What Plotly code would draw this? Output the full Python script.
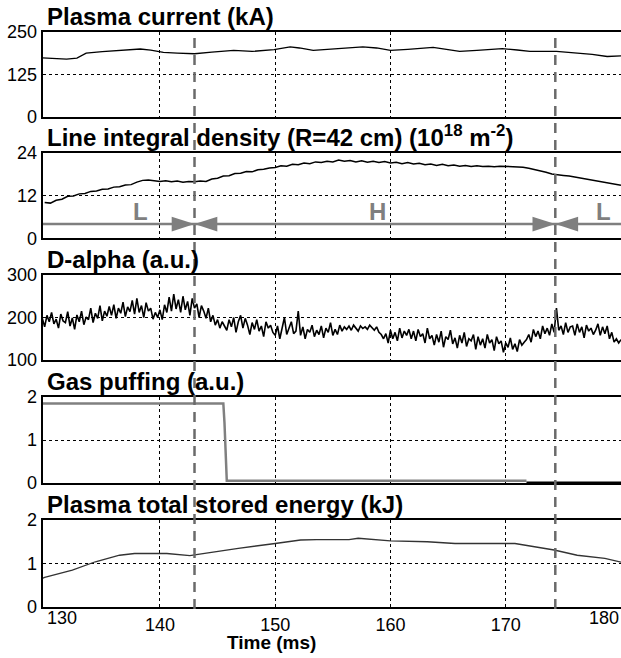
import plotly.graph_objects as go

# ---------------- data ----------------
x_range = [129.83, 180.0]
x_grid_ticks = [140, 150, 160, 170]
x_end_labels = [130, 180]
transitions = [143.0, 174.3]

# Plasma current (kA)
t_ip = [129.8, 130.2, 131.0, 131.9, 132.8, 133.6, 135.0, 136.5, 138.3, 139.2, 140.3, 141.5,
        143.0, 144.5, 146.4, 148.0, 149.9, 151.3, 152.1, 153.3, 154.5, 155.5, 157.6, 158.8,
        160.0, 161.5, 163.7, 165.0, 166.0, 167.5, 169.7, 171.0, 172.1, 174.4, 176.0, 177.5,
        178.8, 180.0]
ip = [174, 173, 171, 170, 173, 188, 192, 196, 200, 197, 190, 188,
      186, 191, 196, 193, 198, 206, 203, 196, 199, 201, 206, 203,
      196, 199, 205, 198, 193, 196, 201, 197, 193, 193, 189, 184,
      178, 180]

# Line integral density (1e18 m^-2), sampled every 0.5 ms from 130 ms
ne_t0, ne_dt = 130.0, 0.5
ne = [10.1, 9.9, 10.7, 11.0, 11.8, 11.9, 12.5, 12.6, 13.2, 13.3,
      13.8, 13.9, 14.4, 14.5, 15.0, 15.1, 15.8, 16.3, 16.4, 16.2,
      16.0, 16.2, 15.9, 16.1, 15.8, 16.0, 15.9, 16.1, 16.0, 16.7,
      16.9, 17.5, 17.6, 18.2, 18.3, 18.8, 18.7, 19.3, 19.4, 19.8,
      19.9, 20.4, 20.3, 20.8, 20.7, 21.2, 21.0, 21.5, 21.3, 21.7,
      21.5, 22.0, 21.7, 21.9, 21.5, 21.8, 21.4, 21.7, 21.3, 21.6,
      21.2, 21.4, 21.0, 21.3, 20.9, 21.1, 20.7, 20.9, 20.5, 20.8,
      20.4, 20.6, 20.3, 20.5, 20.2, 20.4, 20.2, 20.3, 20.1, 20.3,
      20.2, 20.3, 20.1, 20.0, 19.7, 19.4, 19.0, 18.6, 18.1, 17.8,
      17.7, 17.5, 17.2, 16.9, 16.6, 16.4, 16.1, 15.7, 15.3, 15.0,
      14.9]

# D-alpha (a.u.), sampled every 0.2 ms from 129.8 ms
da_t0, da_dt = 129.8, 0.2
dalpha = [198, 178, 205, 190, 212, 185, 196, 175, 208, 192,
          188, 214, 180, 199, 172, 206, 190, 215, 183, 201,
          195, 222, 188, 210, 198, 228, 192, 215, 203, 226,
          205, 230, 198, 222, 210, 236, 202, 225, 214, 240,
          208, 245, 212, 228, 200, 235, 215, 222, 196, 212,
          200, 218, 195, 230, 212, 248, 215, 255, 220, 242,
          212, 250, 218, 238, 205, 245, 222, 232, 200, 228,
          215, 198, 222, 190, 205, 182, 195, 175, 190, 180,
          170, 195, 178, 200, 165, 190, 205, 175, 198, 182,
          160, 188, 172, 195, 168, 180, 155, 190, 175, 182,
          165, 158, 180, 150, 172, 200, 160, 175, 190, 162,
          168, 215, 158, 178, 150, 172, 165, 182, 155, 170,
          160, 180, 152, 175, 165, 188, 158, 172, 160, 182,
          168, 178, 172, 180, 170, 182, 175, 168, 180, 174,
          178, 172, 182, 176, 170, 178, 165, 160, 150, 162,
          140, 170, 150, 165, 145, 175, 152, 168, 158, 172,
          150, 168, 145, 172, 155, 162, 140, 175, 150, 158,
          135, 160, 142, 168, 130, 155, 148, 170, 138, 152,
          128, 158, 140, 165, 132, 150, 145, 160, 125, 155,
          135, 150, 128, 160, 140, 148, 122, 155, 138, 145,
          118, 140, 130, 152, 125, 138, 120, 148, 135, 142,
          148, 160, 142, 172, 155, 168, 150, 180, 162, 175,
          158, 185, 165, 222, 170, 180, 160, 188, 165, 178,
          180, 158, 185, 165, 178, 152, 182, 168, 175, 160,
          170, 185, 158, 178, 162, 180, 150, 165, 142, 150,
          140, 148]

# Gas puffing (a.u.)
t_gas = [129.8, 145.5, 145.6, 145.75, 145.8, 171.8]
gas = [1.85, 1.85, 1.4, 0.5, 0.05, 0.05]
t_gas_off = [171.8, 180.0]
gas_off = [0.01, 0.01]

# Plasma total stored energy (kJ)
t_w = [129.8, 130.0, 132.4, 134.4, 136.5, 137.8, 140.6, 141.6, 142.6, 143.3, 146.8, 150.0,
       152.2, 153.6, 156.4, 157.2, 158.4, 160.0, 163.2, 165.6, 170.8, 172.8, 174.2, 176.2,
       178.6, 180.0]
w = [0.66, 0.68, 0.85, 1.04, 1.19, 1.23, 1.23, 1.21, 1.18, 1.21, 1.35, 1.46,
     1.54, 1.55, 1.55, 1.58, 1.55, 1.52, 1.50, 1.46, 1.46, 1.38, 1.31, 1.19,
     1.12, 1.03]

# confinement-mode arrows
mode_labels = ["L", "H", "L"]
mode_label_x = [138.3, 158.9, 178.5]
arrow_y = 4

titles = ["Plasma current (kA)",
          "Line integral density (R=42 cm) (10<sup>18</sup> m<sup>-2</sup>)",
          "D-alpha (a.u.)",
          "Gas puffing (a.u.)",
          "Plasma total stored energy (kJ)"]
y_ranges = [[0, 250], [0, 24], [100, 300], [0, 2], [0, 2]]
y_ticks = [[0, 125, 250], [0, 12, 24], [100, 200, 300], [0, 1, 2], [0, 1, 2]]

# ---------------- layout geometry (pixels) ----------------
W, H = 621, 658
panel_px = [(32, 117), (153, 238.3), (275, 360), (397, 483), (520, 607)]
left_px = 42.7

FONT = "Liberation Sans"
GRAY = "#7f7f7f"

def py(p):
    return 1 - p / H

fig = go.Figure()

ne_t = [ne_t0 + i * ne_dt for i in range(len(ne))]
da_t = [da_t0 + i * da_dt for i in range(len(dalpha))]

fig.add_trace(go.Scatter(x=t_ip, y=ip, mode="lines", line=dict(color="black", width=1.3),
                         xaxis="x", yaxis="y"))
# L/H arrow line + heads (tips at the transition times)
fig.add_trace(go.Scatter(x=x_range, y=[arrow_y, arrow_y], mode="lines",
                         line=dict(color=GRAY, width=2.5), xaxis="x2", yaxis="y2"))
head_x = [transitions[0], transitions[0], transitions[1], transitions[1]]
fig.add_trace(go.Scatter(x=head_x, y=[arrow_y] * 4, mode="markers",
                         marker=dict(symbol="arrow", size=24, angle=[90, 270, 90, 270],
                                     color=GRAY, line=dict(width=0)),
                         xaxis="x2", yaxis="y2"))
fig.add_trace(go.Scatter(x=ne_t, y=ne, mode="lines", line=dict(color="black", width=1.5),
                         xaxis="x2", yaxis="y2"))
fig.add_trace(go.Scatter(x=da_t, y=dalpha, mode="lines", line=dict(color="black", width=1.6),
                         xaxis="x3", yaxis="y3"))
fig.add_trace(go.Scatter(x=t_gas, y=gas, mode="lines", line=dict(color="#808080", width=2.5),
                         xaxis="x4", yaxis="y4"))
fig.add_trace(go.Scatter(x=t_gas_off, y=gas_off, mode="lines", line=dict(color="black", width=2),
                         xaxis="x4", yaxis="y4"))
fig.add_trace(go.Scatter(x=t_w, y=w, mode="lines", line=dict(color="#333333", width=1.3),
                         xaxis="x5", yaxis="y5"))

layout = dict(
    width=W, height=H, showlegend=False,
    margin=dict(l=0, r=0, t=0, b=0, autoexpand=False),
    paper_bgcolor="white", plot_bgcolor="white",
    font=dict(family=FONT, size=18, color="black"),
)

for i in range(5):
    n = "" if i == 0 else str(i + 1)
    top, bot = panel_px[i]
    layout["xaxis" + n] = dict(
        domain=[left_px / W, 1], range=x_range, anchor="y" + n, automargin=False,
        tickvals=x_grid_ticks, showticklabels=(i == 4), ticks="",
        showgrid=True, gridcolor="black", gridwidth=1, griddash="3px,3px",
        showline=True, mirror=True, linecolor="black", linewidth=2,
        zeroline=False, tickfont=dict(size=18),
        matches=None if i == 0 else "x",
    )
    layout["yaxis" + n] = dict(
        domain=[py(bot), py(top)], range=y_ranges[i], anchor="x" + n, automargin=False,
        tickvals=y_ticks[i], ticks="", showgrid=True, gridcolor="black", gridwidth=1,
        griddash="3px,3px", showline=True, mirror=False, linecolor="black",
        linewidth=2, zeroline=False, tickfont=dict(size=18),
    )

annotations = []
for i in range(5):
    top, _ = panel_px[i]
    annotations.append(dict(
        text="<b>" + titles[i] + "</b>", xref="paper", yref="paper",
        x=45 / W, y=py(top), xanchor="left", yanchor="bottom", yshift=0,
        showarrow=False, font=dict(size=24, family=FONT, color="black")))

# end tick labels of the time axis
annotations.append(dict(text=str(x_end_labels[0]), xref="x5", yref="paper", x=x_end_labels[0],
                        y=py(618), xanchor="left", yanchor="middle", showarrow=False,
                        font=dict(size=18)))
annotations.append(dict(text=str(x_end_labels[1]), xref="x5", yref="paper", x=x_end_labels[1],
                        y=py(618), xanchor="right", yanchor="middle", showarrow=False,
                        font=dict(size=18)))
annotations.append(dict(text="<b>Time (ms)</b>", xref="x5", yref="paper", x=149.67,
                        y=py(642), xanchor="center", yanchor="middle", showarrow=False,
                        font=dict(size=19)))

for lab, lx in zip(mode_labels, mode_label_x):
    annotations.append(dict(text="<b>" + lab + "</b>", xref="x2", yref="y2", x=lx, y=7.6,
                            showarrow=False, font=dict(size=24, color=GRAY)))

layout["annotations"] = annotations

shapes = []
for tx in transitions:
    shapes.append(dict(type="line", xref="x5", yref="paper", x0=tx, x1=tx,
                       y0=py(609), y1=py(32), layer="above",
                       line=dict(color="#6a6a6a", width=2.5, dash="10px,7px")))
layout["shapes"] = shapes

fig.update_layout(**layout)
fig.write_html("out.html")
